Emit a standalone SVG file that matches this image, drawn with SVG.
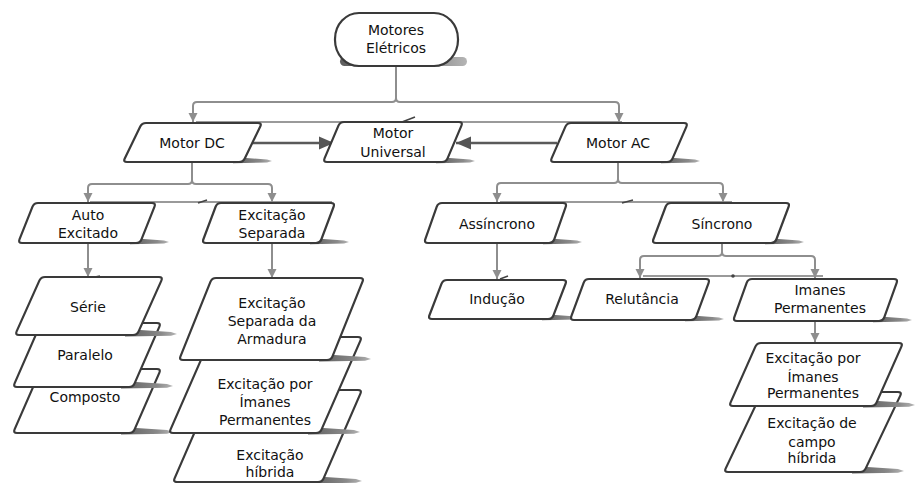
<svg xmlns="http://www.w3.org/2000/svg" xmlns:xlink="http://www.w3.org/1999/xlink" width="915" height="483" viewBox="0 0 915 483">
  <style>
    .box { fill: #ffffff; stroke: #3a3a3a; stroke-width: 2.2; stroke-linejoin: round; }
    .t { font-family: "DejaVu Sans", Verdana, sans-serif; font-size: 14px; fill: #111111; text-anchor: middle; }
    .link { fill: none; stroke: #8e8e8e; stroke-width: 2; }
    .guide { fill: none; stroke: #9a9a9a; stroke-width: 2; }
    .tick { fill: none; stroke: #444444; stroke-width: 1.6; }
    .strong { fill: none; stroke: #5a5a5a; stroke-width: 2.4; }
  </style>
  <defs>
    <linearGradient id="shGrad" x1="0" y1="0" x2="1" y2="0">
      <stop offset="0" stop-color="#5e5e5e"/>
      <stop offset="0.7" stop-color="#8a8a8a"/>
      <stop offset="1" stop-color="#b5b5b5"/>
    </linearGradient>
    <!-- drop shadow slivers at the lower right corner of each box -->
    <path id="shS" d="M-10,-5 L24,-2.5 L29,-1 L24,0.6 L-10,1.2 Z" fill="url(#shGrad)"/>
    <path id="shL" d="M-12,-6 L34,-3 L40,-1 L34,0.8 L-12,1.4 Z" fill="url(#shGrad)"/>
    <marker id="arrG" markerUnits="userSpaceOnUse" markerWidth="10" markerHeight="10" refX="9" refY="5" orient="auto">
      <path d="M0,0.5 L9,5 L0,9.5 Z" fill="#8e8e8e"/>
    </marker>
    <marker id="arrD" markerUnits="userSpaceOnUse" markerWidth="16" markerHeight="14" refX="15" refY="7" orient="auto">
      <path d="M0,0.5 L15,7 L0,13.5 Z" fill="#555555"/>
    </marker>
  </defs>

  <!-- connectors -->
  <g id="connectors">
    <!-- faint alignment rails -->
    <path class="guide" d="M196,122 H622"/>
    <path class="tick" d="M402,122 L415,117"/>
    <path class="guide" d="M90,202 H332"/>
    <path class="tick" d="M198,203 L207,200"/>
    <path class="guide" d="M500,202 H732"/>
    <path class="tick" d="M622,203 L633,200"/>
    <path class="guide" d="M643,276 H823"/>
    <circle cx="733" cy="276" r="1.8" fill="#444444"/>
    <path class="tick" d="M90,278 L100,276"/>
    <path class="tick" d="M500,279 L508,276"/>

    <!-- Motores Elétricos to DC / AC -->
    <path class="link" d="M396,67 V98 Q396,102 392,102 H197 Q193,102 193,106 V122" marker-end="url(#arrG)"/>
    <path class="link" d="M396,98 Q396,102 400,102 H615 Q619,102 619,106 V122" marker-end="url(#arrG)"/>

    <!-- DC and AC into Motor Universal -->
    <path class="strong" d="M252,143 H334" marker-end="url(#arrD)"/>
    <path class="strong" d="M557,143 H456" marker-end="url(#arrD)"/>

    <!-- Motor DC branches -->
    <path class="link" d="M192,162 V180 Q192,184 188,184 H92 Q88,184 88,188 V202" marker-end="url(#arrG)"/>
    <path class="link" d="M192,180 Q192,184 196,184 H268 Q272,184 272,188 V202" marker-end="url(#arrG)"/>
    <path class="link" d="M88,243 V277" marker-end="url(#arrG)"/>
    <path class="link" d="M272,243 V278" marker-end="url(#arrG)"/>

    <!-- Motor AC branches -->
    <path class="link" d="M618,162 V179 Q618,183 614,183 H501 Q497,183 497,187 V202" marker-end="url(#arrG)"/>
    <path class="link" d="M618,179 Q618,183 622,183 H719 Q723,183 723,187 V202" marker-end="url(#arrG)"/>
    <path class="link" d="M497,243 V279" marker-end="url(#arrG)"/>
    <path class="link" d="M722,243 V252 Q722,256 718,256 H644 Q640,256 640,260 V278" marker-end="url(#arrG)"/>
    <path class="link" d="M722,252 Q722,256 726,256 H811 Q815,256 815,260 V278" marker-end="url(#arrG)"/>
    <path class="link" d="M815,321 V342" marker-end="url(#arrG)"/>
  </g>

  <!-- root -->
  <g id="motores-eletricos">
    <rect x="340" y="57" width="127" height="9" rx="4.5" fill="url(#shGrad)"/>
    <rect x="335" y="13" width="123" height="53" rx="24" ry="26" class="box"/>
    <text class="t" x="396" y="35">Motores</text>
    <text class="t" x="396" y="53">Elétricos</text>
  </g>

  <g id="motor-dc">
    <use href="#shS" x="243" y="162"/>
    <path class="box" d="M146,123 H258 Q262,123 260.25,126.6 L244.75,158.4 Q243,162 239,162 H127 Q123,162 124.75,158.4 L140.25,126.6 Q142,123 146,123 Z"/>
    <text class="t" x="192" y="148">Motor DC</text>
  </g>

  <g id="motor-universal">
    <use href="#shS" x="446" y="162"/>
    <path class="box" d="M344,122 H459 Q463,122 461.44,125.68 L447.56,158.32 Q446,162 442,162 H327 Q323,162 324.56,158.32 L338.44,125.68 Q340,122 344,122 Z"/>
    <text class="t" x="393" y="138">Motor</text>
    <text class="t" x="393" y="157">Universal</text>
  </g>

  <g id="motor-ac">
    <use href="#shS" x="671" y="162"/>
    <path class="box" d="M571,123 H684 Q688,123 686.4,126.67 L672.6,158.33 Q671,162 667,162 H554 Q550,162 551.6,158.33 L565.4,126.67 Q567,123 571,123 Z"/>
    <text class="t" x="618" y="148">Motor AC</text>
  </g>

  <g id="auto-excitado">
    <use href="#shS" x="140" y="243"/>
    <path class="box" d="M38,203 H152 Q156,203 154.51,206.71 L141.49,239.29 Q140,243 136,243 H22 Q18,243 19.49,239.29 L32.51,206.71 Q34,203 38,203 Z"/>
    <text class="t" x="88" y="220">Auto</text>
    <text class="t" x="88" y="238">Excitado</text>
  </g>

  <g id="excitacao-separada">
    <use href="#shS" x="320" y="243"/>
    <path class="box" d="M221,203 H331 Q335,203 333.6,206.75 L321.4,239.25 Q320,243 316,243 H206 Q202,243 203.4,239.25 L215.6,206.75 Q217,203 221,203 Z"/>
    <text class="t" x="272" y="220">Excitação</text>
    <text class="t" x="272" y="238">Separada</text>
  </g>

  <!-- self-excited stack, back to front -->
  <g id="composto">
    <use href="#shL" x="133" y="433"/>
    <path class="box" d="M45,369 H157 Q161,369 159.4,372.66 L134.6,429.34 Q133,433 129,433 H17 Q13,433 14.6,429.34 L39.4,372.66 Q41,369 45,369 Z"/>
    <text class="t" x="85" y="402">Composto</text>
  </g>
  <g id="paralelo">
    <use href="#shL" x="133" y="387"/>
    <path class="box" d="M45,323 H157 Q161,323 159.4,326.66 L134.6,383.34 Q133,387 129,387 H17 Q13,387 14.6,383.34 L39.4,326.66 Q41,323 45,323 Z"/>
    <text class="t" x="85" y="360">Paralelo</text>
  </g>
  <g id="serie">
    <use href="#shL" x="137" y="335"/>
    <path class="box" d="M45,277 H159 Q163,277 161.36,280.65 L138.64,331.35 Q137,335 133,335 H19 Q15,335 16.64,331.35 L39.36,280.65 Q41,277 45,277 Z"/>
    <text class="t" x="88" y="312">Série</text>
  </g>

  <!-- separately excited stack, back to front -->
  <g id="excitacao-hibrida">
    <use href="#shL" x="322" y="482"/>
    <path class="box" d="M217,390 H358 Q362,390 360.4,393.67 L323.6,478.33 Q322,482 318,482 H177 Q173,482 174.6,478.33 L211.4,393.67 Q213,390 217,390 Z"/>
    <text class="t" x="270" y="460">Excitação</text>
    <text class="t" x="270" y="477">híbrida</text>
  </g>
  <g id="excitacao-imanes-dc">
    <use href="#shL" x="320" y="433"/>
    <path class="box" d="M215,337 H358 Q362,337 360.4,340.66 L321.6,429.34 Q320,433 316,433 H173 Q169,433 170.6,429.34 L209.4,340.66 Q211,337 215,337 Z"/>
    <text class="t" x="265" y="389">Excitação por</text>
    <text class="t" x="265" y="407">Ímanes</text>
    <text class="t" x="265" y="425">Permanentes</text>
  </g>
  <g id="excitacao-armadura">
    <use href="#shL" x="331" y="360"/>
    <path class="box" d="M216,278 H360 Q364,278 362.51,281.71 L332.49,356.29 Q331,360 327,360 H183 Q179,360 180.49,356.29 L210.51,281.71 Q212,278 216,278 Z"/>
    <text class="t" x="272" y="308">Excitação</text>
    <text class="t" x="272" y="326">Separada da</text>
    <text class="t" x="272" y="344">Armadura</text>
  </g>

  <g id="assincrono">
    <use href="#shS" x="553" y="243"/>
    <path class="box" d="M442,203 H563 Q567,203 565.68,206.78 L554.32,239.22 Q553,243 549,243 H428 Q424,243 425.32,239.22 L436.68,206.78 Q438,203 442,203 Z"/>
    <text class="t" x="497" y="229">Assíncrono</text>
  </g>

  <g id="sincrono">
    <use href="#shS" x="775" y="243"/>
    <path class="box" d="M671,203 H786 Q790,203 788.6,206.75 L776.4,239.25 Q775,243 771,243 H656 Q652,243 653.4,239.25 L665.6,206.75 Q667,203 671,203 Z"/>
    <text class="t" x="722" y="229">Síncrono</text>
  </g>

  <g id="inducao">
    <use href="#shS" x="552" y="319"/>
    <path class="box" d="M447,280 H563 Q567,280 565.56,283.73 L553.44,315.27 Q552,319 548,319 H432 Q428,319 429.44,315.27 L441.56,283.73 Q443,280 447,280 Z"/>
    <text class="t" x="497" y="304">Indução</text>
  </g>

  <g id="relutancia">
    <use href="#shS" x="695" y="320"/>
    <path class="box" d="M589,279 H706 Q710,279 708.63,282.76 L696.37,316.24 Q695,320 691,320 H574 Q570,320 571.37,316.24 L583.63,282.76 Q585,279 589,279 Z"/>
    <text class="t" x="642" y="304">Relutância</text>
  </g>

  <g id="imanes-permanentes">
    <use href="#shS" x="883" y="321"/>
    <path class="box" d="M752,279 H894 Q898,279 896.65,282.77 L884.35,317.23 Q883,321 879,321 H737 Q733,321 734.35,317.23 L746.65,282.77 Q748,279 752,279 Z"/>
    <text class="t" x="820" y="295">Imanes</text>
    <text class="t" x="820" y="313">Permanentes</text>
  </g>

  <!-- synchronous permanent-magnet stack, back to front -->
  <g id="excitacao-campo-hibrida">
    <use href="#shL" x="864" y="472"/>
    <path class="box" d="M766,392 H898 Q902,392 900.28,395.61 L865.72,468.39 Q864,472 860,472 H728 Q724,472 725.72,468.39 L760.28,395.61 Q762,392 766,392 Z"/>
    <text class="t" x="812" y="428">Excitação de</text>
    <text class="t" x="812" y="447">campo</text>
    <text class="t" x="812" y="463">híbrida</text>
  </g>
  <g id="excitacao-imanes-ac">
    <use href="#shL" x="875" y="406"/>
    <path class="box" d="M761,343 H899 Q903,343 901.38,346.66 L876.62,402.34 Q875,406 871,406 H733 Q729,406 730.62,402.34 L755.38,346.66 Q757,343 761,343 Z"/>
    <text class="t" x="813" y="363">Excitação por</text>
    <text class="t" x="813" y="382">Ímanes</text>
    <text class="t" x="813" y="398">Permanentes</text>
  </g>
</svg>
